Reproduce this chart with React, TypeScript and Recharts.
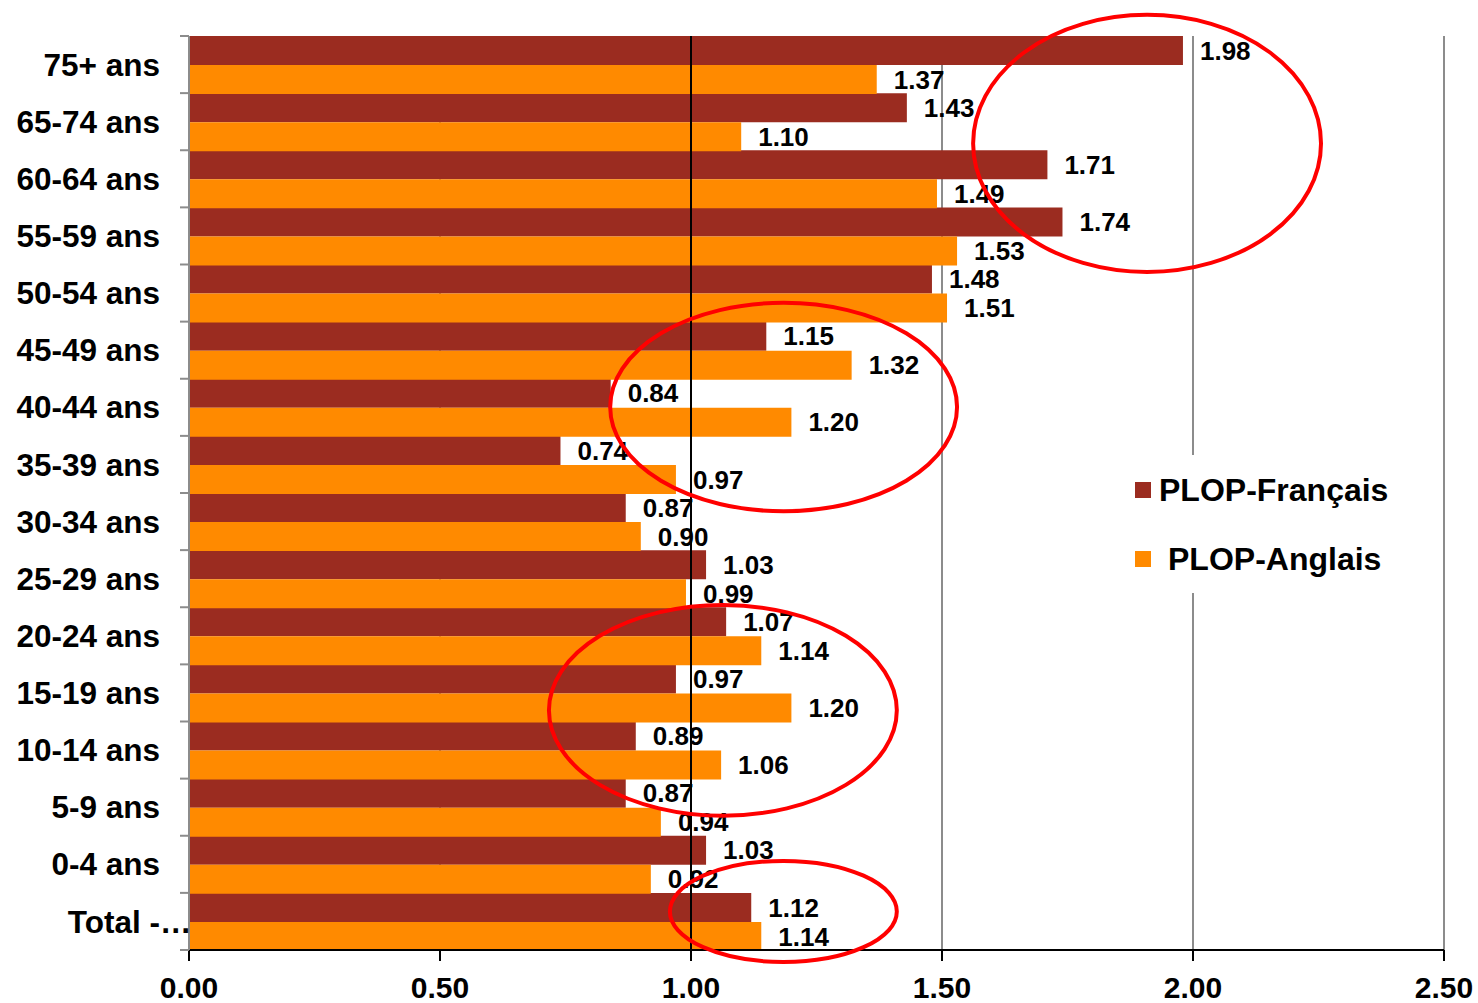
import React from 'react';
import {
  BarChart,
  Bar,
  XAxis,
  YAxis,
  CartesianGrid,
  ReferenceLine,
  ReferenceArea,
  LabelList,
  Legend,
} from 'recharts';

// ---------- data ----------
const categories = [
  '75+ ans', '65-74 ans', '60-64 ans', '55-59 ans', '50-54 ans', '45-49 ans',
  '40-44 ans', '35-39 ans', '30-34 ans', '25-29 ans', '20-24 ans', '15-19 ans',
  '10-14 ans', '5-9 ans', '0-4 ans', 'Total -…',
];
const francais = [1.98, 1.43, 1.71, 1.74, 1.48, 1.15, 0.84, 0.74, 0.87, 1.03, 1.07, 0.97, 0.89, 0.87, 1.03, 1.12];
const anglais = [1.37, 1.10, 1.49, 1.53, 1.51, 1.32, 1.20, 0.97, 0.90, 0.99, 1.14, 1.20, 1.06, 0.94, 0.92, 1.14];
const xTicks = [0, 0.5, 1, 1.5, 2, 2.5];
const seriesNames = ['PLOP-Français', 'PLOP-Anglais'];
const referenceValue = 1;

// annotation ellipses: x in value units, y in row units (0 = top of first row)
const ellipseX1 = [1.562, 0.839, 0.717, 0.958];
const ellipseX2 = [2.255, 1.530, 1.410, 1.410];
const ellipseY1 = [-0.37, 4.67, 9.96, 14.44];
const ellipseY2 = [4.13, 8.32, 13.65, 16.21];

const data = categories.map((name, i) => ({ name, fr: francais[i], en: anglais[i] }));

// ---------- styles ----------
const W = 1478;
const H = 1003;
const MARGIN = { top: 36, right: 34, bottom: 0, left: 0 };
const Y_AXIS_W = 189;
const X_AXIS_H = 53;
const PLOT_H = H - MARGIN.top - MARGIN.bottom - X_AXIS_H;
const FONT = '"Liberation Sans", Arial, Helvetica, sans-serif';
const RED = '#9B2C20';
const ORANGE = '#FF8A00';
const GRID = '#8c8c8c';
const TICK_SIZE = 9;
const TICK_MARGIN = 20;

const CategoryTick = (props: any) => {
  const { x, y, payload, index, visibleTicksCount, height } = props;
  const n = visibleTicksCount || categories.length;
  let half = payload && typeof payload.offset === 'number' && payload.offset > 0 ? payload.offset : NaN;
  if (!isFinite(half)) half = (typeof height === 'number' && height > 0 ? height : PLOT_H) / n / 2;
  const label = String(payload?.value ?? '');
  const hasEll = label.endsWith('…');
  const main = hasEll ? label.slice(0, -1) : label;
  const lx1 = x + TICK_MARGIN;
  const lx2 = x + TICK_MARGIN + TICK_SIZE;
  return (
    <g>
      <line x1={lx1} x2={lx2} y1={y - half} y2={y - half} stroke={GRID} strokeWidth={2} />
      {index === n - 1 && (
        <line x1={lx1} x2={lx2} y1={y + half} y2={y + half} stroke={GRID} strokeWidth={2} />
      )}
      <text
        x={x}
        y={y}
        dy="0.355em"
        textAnchor="end"
        fontSize={31.5}
        fontWeight="bold"
        fill="#000"
        fontFamily={FONT}
      >
        <tspan x={x}>{main}</tspan>
        {hasEll && (
          <tspan x={x} textAnchor="start">
            …
          </tspan>
        )}
      </text>
    </g>
  );
};

// rows spanned by an ellipse, as category indices
const rowStart = (y1: number) => Math.min(categories.length - 1, Math.max(0, Math.floor(y1)));
const rowEnd = (y2: number) => Math.min(categories.length - 1, Math.max(0, Math.ceil(y2) - 1));

const makeEllipseShape = (y1: number, y2: number) => (p: any) => {
  const { x, y, width, height } = p;
  if (![x, y, width, height].every((v) => typeof v === 'number' && isFinite(v))) return <g />;
  const r1 = rowStart(y1);
  const r2 = rowEnd(y2);
  const top = Math.min(y, y + height);
  const band = Math.abs(height) / (r2 - r1 + 1);
  const eTop = top + (y1 - r1) * band;
  const eBottom = top + (y2 - r1) * band;
  return (
    <ellipse
      cx={x + width / 2}
      cy={(eTop + eBottom) / 2}
      rx={Math.abs(width) / 2}
      ry={Math.abs(eBottom - eTop) / 2}
      fill="none"
      stroke="#FF0000"
      strokeWidth={4}
    />
  );
};

const renderLegend = (props: any) => {
  const raw = (props.payload ?? []) as any[];
  const items = [...raw].sort(
    (a, b) => seriesNames.indexOf(String(a.value)) - seriesNames.indexOf(String(b.value)),
  );
  return (
    <div style={{ fontFamily: FONT, fontWeight: 'bold', fontSize: 32, color: '#000' }}>
      {items.map((it: any, i: number) => (
        <div
          key={i}
          style={{ height: 69, display: 'flex', alignItems: 'center', paddingLeft: 20, boxSizing: 'border-box' }}
        >
          <span
            style={{
              width: 16,
              height: 16,
              background: it.color,
              display: 'inline-block',
              marginRight: String(it.value) === seriesNames[1] ? 17 : 8,
              flex: '0 0 auto',
            }}
          />
          <span style={{ lineHeight: 1, whiteSpace: 'nowrap' }}>{it.value}</span>
        </div>
      ))}
    </div>
  );
};

const fmt = (v: any) => Number(v).toFixed(2);

export default function App() {
  return (
    <div style={{ position: 'absolute', left: 0, top: 0, width: W, height: H, background: '#fff' }}>
      <BarChart
        width={W}
        height={H}
        data={data}
        layout="vertical"
        margin={MARGIN}
        barCategoryGap={0}
        barGap={0}
      >
        <CartesianGrid horizontal={false} stroke={GRID} strokeWidth={2} />
        <XAxis
          type="number"
          domain={[0, 2.5]}
          ticks={xTicks}
          interval={0}
          tickFormatter={fmt}
          height={X_AXIS_H}
          tickSize={11}
          tickMargin={16}
          axisLine={{ stroke: '#000', strokeWidth: 2 }}
          tickLine={{ stroke: '#000', strokeWidth: 2 }}
          tick={{ fontSize: 30, fontWeight: 'bold', fill: '#000', fontFamily: FONT }}
        />
        <YAxis
          type="category"
          dataKey="name"
          width={Y_AXIS_W}
          interval={0}
          tickSize={TICK_SIZE}
          tickMargin={TICK_MARGIN}
          tickLine={false}
          axisLine={{ stroke: GRID, strokeWidth: 2 }}
          tick={(p: any) => <CategoryTick {...p} />}
        />
        <Legend
          layout="horizontal"
          align="center"
          verticalAlign="middle"
          wrapperStyle={{ left: 1115, top: 455, width: 290, height: 138, backgroundColor: '#fff' }}
          content={renderLegend}
        />
        <Bar dataKey="fr" name={seriesNames[0]} fill={RED} isAnimationActive={false}>
          <LabelList
            dataKey="fr"
            position="right"
            offset={17}
            formatter={fmt}
            fill="#000"
            fontSize={26}
            fontWeight="bold"
            fontFamily={FONT}
          />
        </Bar>
        <Bar dataKey="en" name={seriesNames[1]} fill={ORANGE} isAnimationActive={false}>
          <LabelList
            dataKey="en"
            position="right"
            offset={17}
            formatter={fmt}
            fill="#000"
            fontSize={26}
            fontWeight="bold"
            fontFamily={FONT}
          />
        </Bar>
        <ReferenceLine x={referenceValue} stroke="#000" strokeWidth={2} {...({ zIndex: 1500 } as any)} />
        {ellipseX1.map((_, i) => (
          <ReferenceArea
            key={i}
            x1={ellipseX1[i]}
            x2={ellipseX2[i]}
            y1={categories[rowStart(ellipseY1[i])]}
            y2={categories[rowEnd(ellipseY2[i])]}
            ifOverflow="visible"
            shape={makeEllipseShape(ellipseY1[i], ellipseY2[i])}
            {...({ zIndex: 3000 } as any)}
          />
        ))}
      </BarChart>
    </div>
  );
}
